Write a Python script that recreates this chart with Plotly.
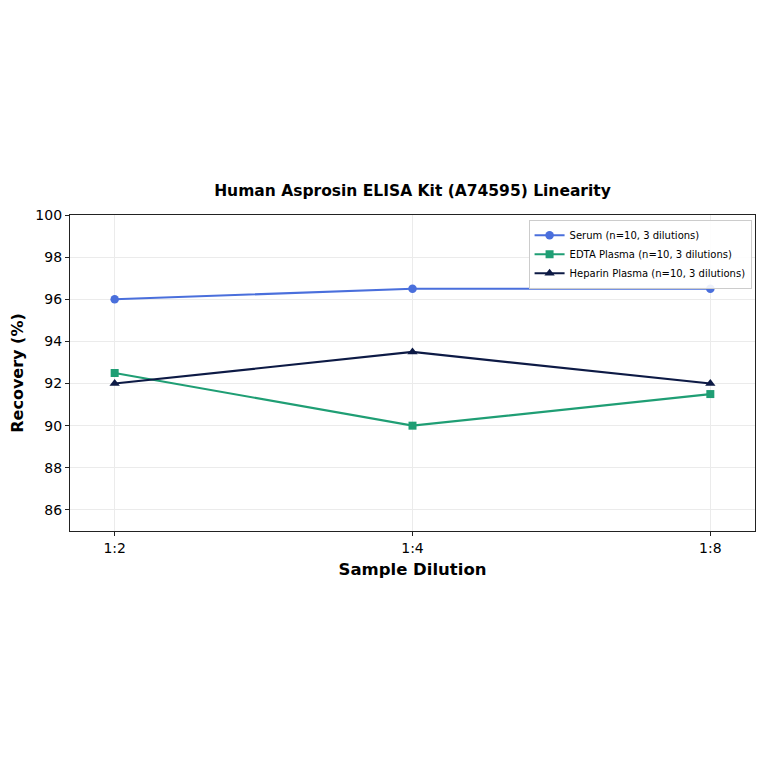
import plotly.graph_objects as go

# 希釈倍率
dilutions = ["1:2", "1:4", "1:8"]

# 回収率 (%)
serum = [96.0, 96.5, 96.5]
edta_plasma = [92.5, 90.0, 91.5]
heparin_plasma = [92.0, 93.5, 92.0]

series_names = [
    "Serum (n=10, 3 dilutions)",
    "EDTA Plasma (n=10, 3 dilutions)",
    "Heparin Plasma (n=10, 3 dilutions)",
]

x = list(range(len(dilutions)))

fig = go.Figure()
fig.add_trace(go.Scatter(
    x=x, y=serum, name=series_names[0], mode="lines+markers",
    line=dict(color="#4a6fdc", width=2.2),
    marker=dict(symbol="circle", size=8.5, color="#4a6fdc")
))
fig.add_trace(go.Scatter(
    x=x, y=edta_plasma, name=series_names[1], mode="lines+markers",
    line=dict(color="#1f9e74", width=2.2),
    marker=dict(symbol="square", size=8, color="#1f9e74")
))
fig.add_trace(go.Scatter(
    x=x, y=heparin_plasma, name=series_names[2], mode="lines+markers",
    line=dict(color="#0d1a45", width=2.2),
    marker=dict(symbol="triangle-up", size=9, color="#0d1a45")
))

fig.update_layout(
    width=748, height=748,
    paper_bgcolor="white", plot_bgcolor="white",
    font=dict(family="DejaVu Sans", color="black"),
    title=dict(
        text="<b>Human Asprosin ELISA Kit (A74595) Linearity</b>",
        xref="paper", x=0.5, xanchor="center",
        y=1 - 183 / 748, yanchor="middle",
        font=dict(size=15.5)
    ),
    margin=dict(l=62, r=1, t=207, b=225),
    showlegend=True,
    legend=dict(
        x=0.995, y=0.985, xanchor="right", yanchor="top",
        bgcolor="rgba(255,255,255,0.9)", bordercolor="#cccccc", borderwidth=1,
        font=dict(size=10), tracegroupgap=0, itemwidth=30
    ),
)

fig.update_xaxes(
    range=[-0.15, 2.15], tickvals=x, ticktext=dilutions,
    title=dict(text="<b>Sample Dilution</b>", font=dict(size=16.5), standoff=8),
    tickfont=dict(size=14),
    showgrid=True, gridcolor="#ebebeb", gridwidth=1,
    showline=True, linecolor="#222222", linewidth=1.2, mirror=True,
    ticks="outside", ticklen=4, tickcolor="#222222", zeroline=False
)
fig.update_yaxes(
    range=[85, 100], tickvals=[86, 88, 90, 92, 94, 96, 98, 100],
    title=dict(text="<b>Recovery (%)</b>", font=dict(size=16), standoff=9),
    tickfont=dict(size=14),
    showgrid=True, gridcolor="#ebebeb", gridwidth=1,
    showline=True, linecolor="#222222", linewidth=1.2, mirror=True,
    ticks="outside", ticklen=4, tickcolor="#222222", zeroline=False
)

fig.write_html("out.html")
